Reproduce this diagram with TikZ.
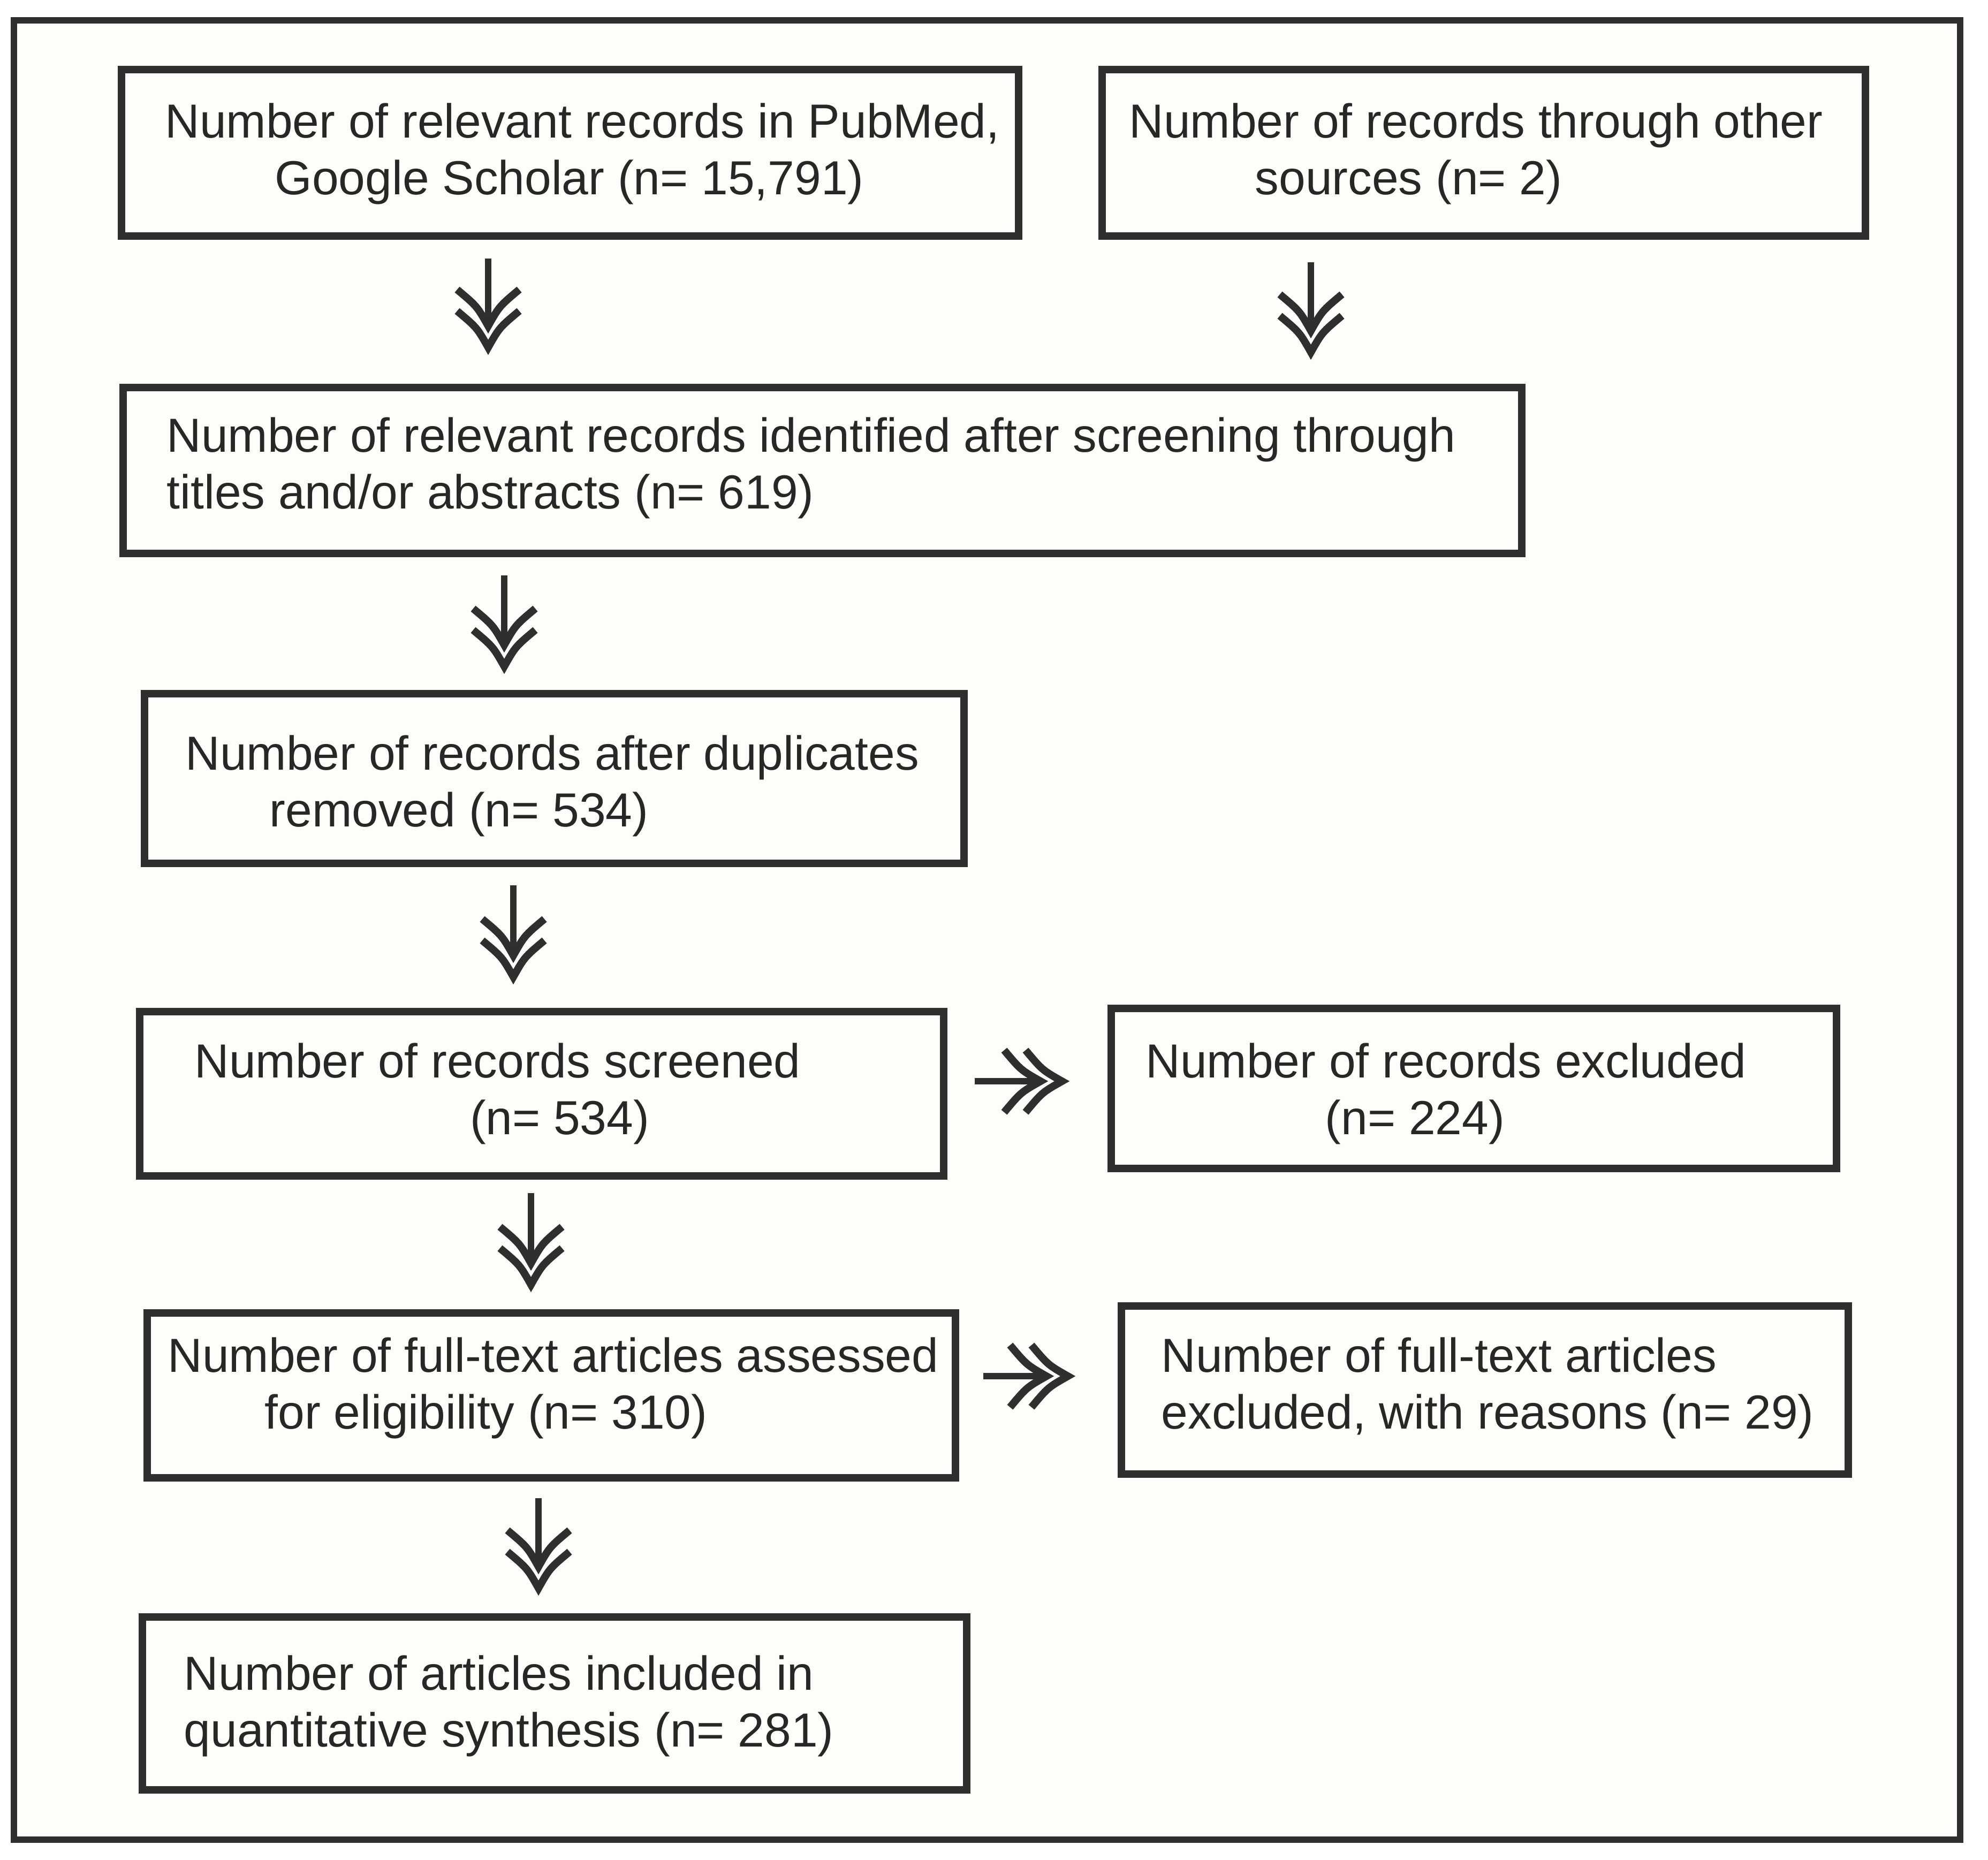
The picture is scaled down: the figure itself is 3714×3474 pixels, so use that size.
\documentclass[tikz,border=0pt]{standalone}
\usepackage{fontspec}
\setmainfont{Liberation Sans}
\usetikzlibrary{fit,decorations.markings}
\definecolor{ink}{HTML}{2F2F2F}
\definecolor{txtc}{HTML}{272727}
\definecolor{paper}{HTML}{FEFDF9}
\begin{document}
\begin{tikzpicture}[x=0.01cm,y=-0.01cm,
  frm/.style={draw=ink, line width=0.115cm, fill=paper, inner sep=0pt, outer sep=0pt},
  box/.style={draw=ink, line width=0.145cm, inner sep=0pt, outer sep=0pt},
  txt/.style={text=txtc, inner sep=0pt, anchor=base west, font=\fontsize{25.4}{30.2}\selectfont},
  chevline/.style={draw=ink, line width=0.14cm, line join=miter, line cap=butt},
  flow/.style={draw=ink, line width=0.12cm, line cap=butt,
    postaction={decorate, decoration={markings, mark=at position 1 with {
      \draw[chevline] (-68,-58) .. controls (-37,-21) .. (0,0) .. controls (-37,21) .. (-68,58);
      \draw[chevline] (-28,-58) .. controls (3,-21) .. (40,0) .. controls (3,21) .. (-28,58);
    }}}}
]
\fill[white] (0,0) rectangle (3714,3474);
\useasboundingbox (0,0) rectangle (3714,3474);
\node[frm, fit={(26,38) (3662,3437)}] (frame) {};

% boxes
\node[box, fit={(227,130) (1903,441)}] (b1) {};
\node[box, fit={(2059,130) (3485,441)}] (b2) {};
\node[box, fit={(230,724) (2843,1034)}] (b3) {};
\node[box, fit={(270,1296) (1801,1613)}] (b4) {};
\node[box, fit={(261,1890) (1763,2197)}] (b5) {};
\node[box, fit={(2076,1884) (3431,2183)}] (b6) {};
\node[box, fit={(275,2453) (1785,2761)}] (b7) {};
\node[box, fit={(2095,2440) (3453,2754)}] (b8) {};
\node[box, fit={(266,3021) (1806,3344)}] (b9) {};

% texts
\node[txt] (t1) at (308,257) {\begin{tabular}[t]{@{}l@{}}Number of relevant records in PubMed,\\\hspace*{2.05cm}Google Scholar (n= 15,791)\end{tabular}};
\node[txt] (t2) at (2109,257) {\begin{tabular}[t]{@{}l@{}}Number of records through other\\\hspace*{2.35cm}sources (n= 2)\end{tabular}};
\node[txt] (t3) at (311,844) {\begin{tabular}[t]{@{}l@{}}Number of relevant records identified after screening through\\titles and/or abstracts (n= 619)\end{tabular}};
\node[txt] (t4) at (346,1438) {\begin{tabular}[t]{@{}l@{}}Number of records after duplicates\\\hspace*{1.57cm}removed (n= 534)\end{tabular}};
\node[txt] (t5) at (363,2013) {\begin{tabular}[t]{@{}l@{}}Number of records screened\\\hspace*{5.14cm}(n= 534)\end{tabular}};
\node[txt] (t6) at (2140,2013) {\begin{tabular}[t]{@{}l@{}}Number of records excluded\\\hspace*{3.35cm}(n= 224)\end{tabular}};
\node[txt] (t7) at (313,2563) {\begin{tabular}[t]{@{}l@{}}Number of full-text articles assessed\\\hspace*{1.81cm}for eligibility (n= 310)\end{tabular}};
\node[txt] (t8) at (2169,2563) {\begin{tabular}[t]{@{}l@{}}Number of full-text articles\\excluded, with reasons (n= 29)\end{tabular}};
\node[txt] (t9) at (343,3157) {\begin{tabular}[t]{@{}l@{}}Number of articles included in\\quantitative synthesis (n= 281)\end{tabular}};

% arrow end points (shaft start, shaft end at the first chevron)
\coordinate (a1s) at (912,483);   \coordinate (a1e) at (912,609);
\coordinate (a2s) at (2449,490);  \coordinate (a2e) at (2449,618);
\coordinate (a3s) at (942,1075);  \coordinate (a3e) at (942,1205);
\coordinate (a4s) at (959,1654);  \coordinate (a4e) at (959,1785);
\coordinate (a5s) at (1821,2020); \coordinate (a5e) at (1944,2020);
\coordinate (a6s) at (992,2229);  \coordinate (a6e) at (992,2360);
\coordinate (a7s) at (1837,2571); \coordinate (a7e) at (1955,2571);
\coordinate (a8s) at (1006,2799); \coordinate (a8e) at (1006,2927);

\draw[flow] (a1s) -- (a1e);
\draw[flow] (a2s) -- (a2e);
\draw[flow] (a3s) -- (a3e);
\draw[flow] (a4s) -- (a4e);
\draw[flow] (a5s) -- (a5e);
\draw[flow] (a6s) -- (a6e);
\draw[flow] (a7s) -- (a7e);
\draw[flow] (a8s) -- (a8e);
\end{tikzpicture}
\end{document}
